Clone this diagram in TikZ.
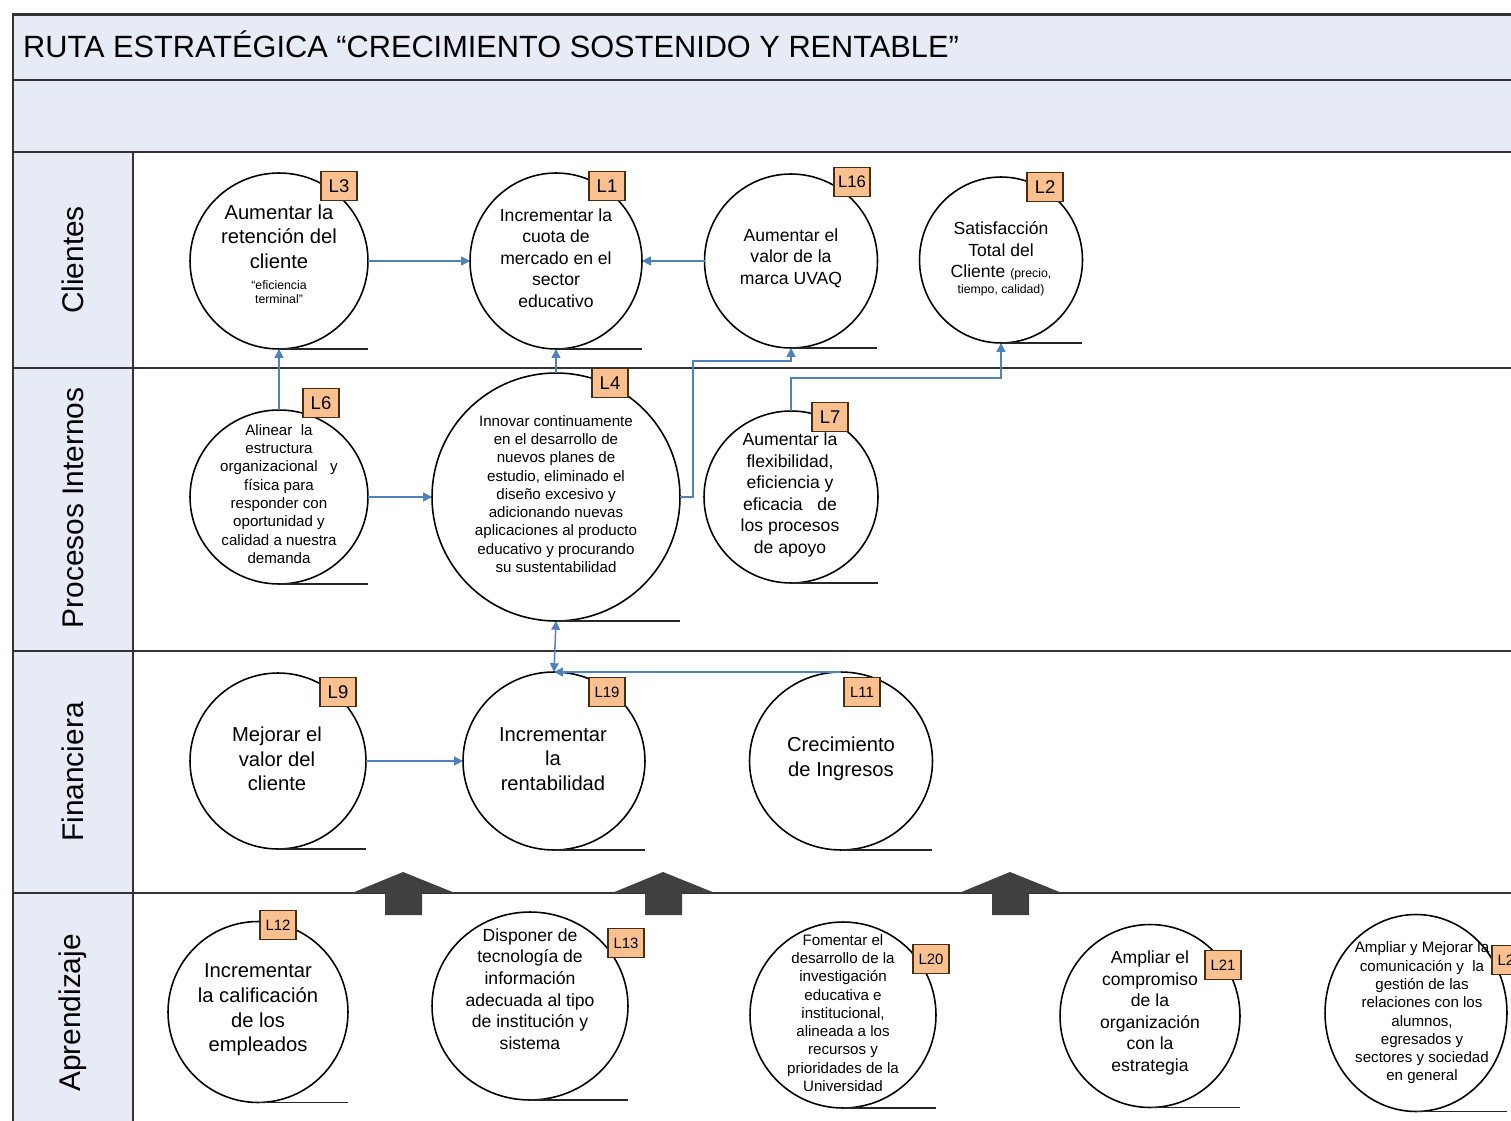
\documentclass[tikz,border=0pt]{standalone}
\usepackage{fontspec}
\setmainfont{Liberation Sans}
\usetikzlibrary{shapes.geometric,arrows.meta}
\definecolor{fondo}{RGB}{231,235,245}
\definecolor{linea}{RGB}{51,51,51}
\definecolor{conector}{RGB}{79,129,189}
\definecolor{naranja}{RGB}{250,192,143}
\definecolor{borde}{RGB}{70,45,20}
\definecolor{flechagris}{RGB}{64,64,64}
\newcommand{\chico}{\fontsize{7}{8}\selectfont}
\tikzset{
	marco/.style={draw=linea, line width=1.7pt},
	objetivo/.style={ellipse, draw=black, line width=0.9pt, inner sep=0pt, outer sep=0pt},
	basis/.style={draw=black!85, line width=1.1pt},
	etiqueta/.style={rectangle, draw=borde, fill=naranja, line width=0.9pt, minimum width=0.72cm, minimum height=0.58cm, inner sep=0pt, font=\fontsize{10.5}{12}\selectfont},
	etiq chica/.style={etiqueta, font=\fontsize{8.5}{10}\selectfont},
	texto grande/.style={align=center, inner sep=0pt, font=\fontsize{11.5}{14}\selectfont},
	texto medio/.style={align=center, inner sep=0pt, font=\fontsize{10}{12.3}\selectfont},
	texto chico/.style={align=center, inner sep=0pt, font=\fontsize{8.6}{10.4}\selectfont},
	carril/.style={rotate=90, font=\fontsize{17}{20}\selectfont},
	conexion/.style={draw=conector, line width=0.85pt, >={Triangle[length=5pt,width=5pt]}, ->},
	flecha/.style={fill=flechagris}
}
\begin{document}
\begin{tikzpicture}[x=0.02cm, y=-0.02cm]
	\useasboundingbox (0,0) rectangle (1511,1121);
	\clip (0,0) rectangle (1511,1121);
	% Kopf und Spalte
	\fill[fondo] (13,15) rectangle (1530,152);
	\fill[fondo] (13,152) rectangle (133,1140);
	\draw[marco] (1530,15) -- (13,15) -- (13,1140);
	\draw[marco] (13,80) -- (1530,80);
	\draw[marco] (13,152) -- (1530,152);
	\foreach \y in {368,651,893}
		\draw[marco] (13,\y) -- (1530,\y);
	\draw[marco, line width=1.2pt] (133,152) -- (133,1140);
	\node[anchor=west, font=\fontsize{17.5}{20}\selectfont] (titulo) at (17,44) {RUTA ESTRATÉGICA “CRECIMIENTO SOSTENIDO Y RENTABLE”};
	% Carriles
	\node[carril] (clientes) at (73,260) {Clientes};
	\node[carril] (procesos) at (73,508) {Procesos Internos};
	\node[carril] (financiera) at (73,772) {Financiera};
	\node[carril] (aprendizaje) at (73,1013) {Aprendizaje};
	% Flechas grises
	\foreach \cx in {403,663,1010}
		\fill[flecha] (\cx-51,893) -- (\cx,872) -- (\cx+52,893) -- (\cx+19,893) -- (\cx+19,915) -- (\cx-18,915) -- (\cx-18,893) -- cycle;
	% Clientes
	\node[objetivo, minimum width=3.56cm, minimum height=3.52cm] (l3) at (279,261) {};
	\node[objetivo, minimum width=3.44cm, minimum height=3.52cm] (l1) at (556,261) {};
	\node[objetivo, minimum width=3.46cm, minimum height=3.48cm] (l16) at (791,261) {};
	\node[objetivo, minimum width=3.26cm, minimum height=3.32cm] (l2) at (1001,260) {};
	\node[texto grande] (t3) at (279,254) {Aumentar la\\retención del\\cliente\\[-2pt]{\chico “eficiencia}\\[-6pt]{\chico terminal”}};
	\node[texto medio] (t1) at (556,258) {Incrementar la\\cuota de\\mercado en el\\sector\\educativo};
	\node[texto medio] (t16) at (791,258) {Aumentar el\\valor de la\\marca UVAQ};
	\node[texto medio] (t2) at (1001,259) {Satisfacción\\Total del\\Cliente {\chico (precio,}\\[-3pt]{\chico tiempo, calidad)}};
	% Procesos Internos
	\node[objetivo, minimum width=3.56cm, minimum height=3.48cm] (l6) at (279,497) {};
	\node[objetivo, minimum width=4.96cm, minimum height=4.96cm] (l4) at (556,497) {};
	\node[objetivo, minimum width=3.48cm, minimum height=3.44cm] (l7) at (791,497) {};
	\node[texto chico] (t6) at (279,494) {Alinear\ \ la\\estructura\\organizacional\ \ \ y\\física para\\responder con\\oportunidad y\\calidad a nuestra\\demanda};
	\node[texto chico] (t4) at (556,494) {Innovar continuamente\\en el desarrollo de\\nuevos planes de\\estudio, eliminado el\\diseño excesivo y\\adicionando nuevas\\aplicaciones al producto\\educativo y procurando\\su sustentabilidad};
	\node[texto medio] (t7) at (790,495) {Aumentar la\\flexibilidad,\\eficiencia y\\eficacia\ \ \ de\\los procesos\\de apoyo};
	% Financiera
	\node[objetivo, minimum width=3.52cm, minimum height=3.52cm] (l9) at (278,761) {};
	\node[objetivo, minimum width=3.64cm, minimum height=3.56cm] (l19) at (554,761) {};
	\node[objetivo, minimum width=3.66cm, minimum height=3.56cm] (l11) at (841,761) {};
	\node[texto grande] (t9) at (277,759) {Mejorar el\\valor del\\cliente};
	\node[texto grande] (t19) at (553,759) {Incrementar\\la\\rentabilidad};
	\node[texto grande] (t11) at (841,759) {Crecimiento\\de Ingresos};
	% Aprendizaje
	\node[objetivo, minimum width=3.6cm, minimum height=3.62cm] (l12) at (258,1012) {};
	\node[objetivo, minimum width=3.92cm, minimum height=3.76cm] (l13) at (530,1006) {};
	\node[objetivo, minimum width=3.72cm, minimum height=3.72cm] (l20) at (843,1015) {};
	\node[objetivo, minimum width=3.6cm, minimum height=3.66cm] (l21) at (1150,1016) {};
	\node[objetivo, minimum width=3.64cm, minimum height=3.94cm] (l22) at (1416,1013) {};
	\node[texto grande] (t12) at (258,1010) {Incrementar\\la calificación\\de los\\empleados};
	\node[texto medio] (t13) at (530,989) {Disponer de\\tecnología de\\información\\adecuada al tipo\\de institución y\\sistema};
	\node[texto chico] (t20) at (843,1013) {Fomentar el\\desarrollo de la\\investigación\\educativa e\\institucional,\\alineada a los\\recursos y\\prioridades de la\\Universidad};
	\node[texto medio] (t21) at (1150,1013) {Ampliar el\\compromiso\\de la\\organización\\con la\\estrategia};
	\node[texto chico] (t22) at (1422,1013) {Ampliar y Mejorar la\\comunicación y\ \ la\\gestión de las\\relaciones con los\\alumnos,\\egresados y\\sectores y sociedad\\en general};
	% Grundlinien
	\foreach \n in {l3,l1,l16,l2,l6,l4,l7,l9,l19,l11,l12,l13,l20,l21,l22}
		\draw[basis] (\n.south) -- (\n.south -| \n.east);
	% Etiquetas
	\node[etiqueta] (e3) at (339,186) {L3};
	\node[etiqueta] (e1) at (607,186) {L1};
	\node[etiqueta, font=\fontsize{9.5}{11}\selectfont] (e16) at (852,182) {L16};
	\node[etiqueta] (e2) at (1045,187) {L2};
	\node[etiqueta] (e6) at (321,403) {L6};
	\node[etiqueta] (e4) at (610,383) {L4};
	\node[etiqueta] (e7) at (830,417) {L7};
	\node[etiqueta] (e9) at (338,692) {L9};
	\node[etiq chica] (e19) at (607,692) {L19};
	\node[etiq chica] (e11) at (862,692) {L11};
	\node[etiq chica] (e12) at (278,925) {L12};
	\node[etiq chica] (e13) at (626,943) {L13};
	\node[etiq chica] (e20) at (931,959) {L20};
	\node[etiq chica] (e21) at (1223,965) {L21};
	\node[etiq chica] (e22) at (1510,960) {L22};
	% Conexiones
	\coordinate (k1) at (693,361);
	\coordinate (k2) at (1001,378);
	\draw[conexion] (l3.east) -- (l1.west);
	\draw[conexion] (l16.west) -- (l1.east);
	\draw[conexion] (l6.north) -- (l3.south);
	\draw[conexion] (l6.east) -- (l4.west);
	\draw[conexion] (l4.north) -- (l1.south);
	\draw[conexion] (l4.east) -| (k1) -| (l16.south);
	\draw[conexion] (l7.north) |- (k2) -- (l2.south);
	\draw[conexion] (l9.east) -- (l19.west);
	\draw[conexion, <->] (l19.north) -- (l4.south);
	\draw[conexion] (l11.north) -- (l19.north);
\end{tikzpicture}
\end{document}
